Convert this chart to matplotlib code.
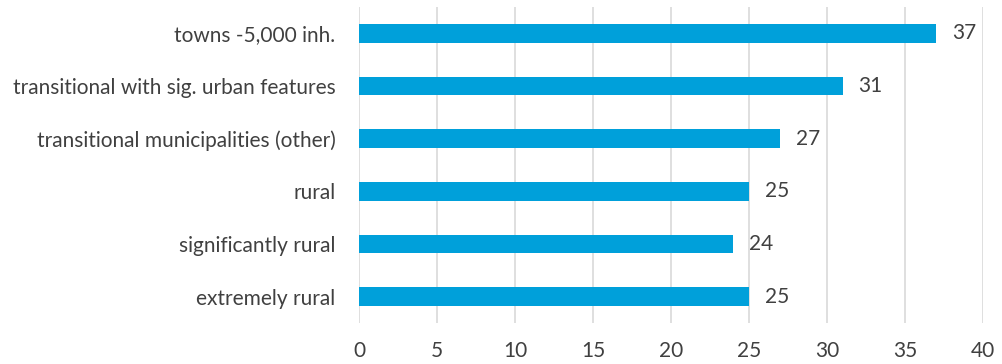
import matplotlib
matplotlib.use("Agg")
import matplotlib.pyplot as plt

categories = ["towns -5,000 inh.", "transitional with sig. urban features",
              "transitional municipalities (other)", "rural",
              "significantly rural", "extremely rural"]
values = [37, 31, 27, 25, 24, 25]
xticks = [0, 5, 10, 15, 20, 25, 30, 35, 40]

BAR = "#00A0DA"
TEXT = "#404040"
GRID = "#D9D9D9"

plt.rcParams["font.family"] = ["Lato", "DejaVu Sans"]

fig = plt.figure(figsize=(10.03, 3.64), dpi=100)
ax = fig.add_axes([359 / 1003, 1 - 323 / 364, 624 / 1003, 316 / 364])

ypos = list(range(len(categories)))[::-1]
ax.barh(ypos, values, height=0.36, color=BAR, zorder=3)
for y, v in zip(ypos, values):
    ax.text(v + 1.0, y, f"{v}", va="center", ha="left", fontsize=15, color=TEXT)

ax.set_xlim(0, 40)
ax.set_ylim(-0.5, len(categories) - 0.5)
ax.set_xticks(xticks)
ax.set_xticklabels([str(t) for t in xticks], fontsize=15, color=TEXT)
ax.set_yticks(ypos)
ax.set_yticklabels(categories, fontsize=15, color=TEXT)
ax.tick_params(axis="both", length=0)
ax.tick_params(axis="x", pad=13)
ax.tick_params(axis="y", pad=17)
ax.grid(axis="x", color=GRID, linewidth=1.2, zorder=0)
for s in ax.spines.values():
    s.set_visible(False)

fig.savefig("out.png", dpi=100)
